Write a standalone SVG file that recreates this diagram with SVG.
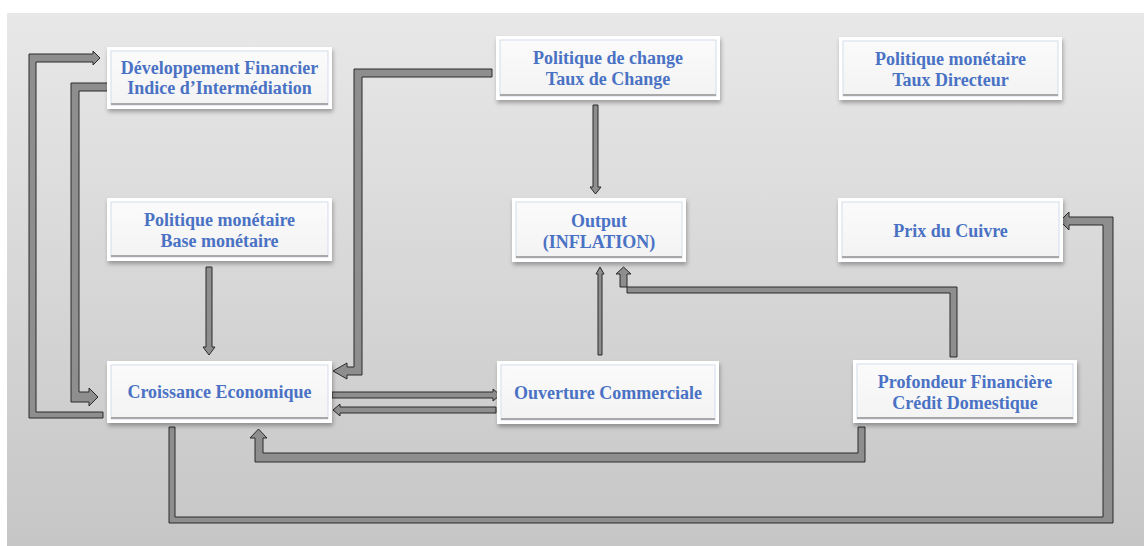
<svg xmlns="http://www.w3.org/2000/svg" width="1144" height="546" viewBox="0 0 1144 546">
<defs>
<linearGradient id="bg" x1="0" y1="0" x2="0" y2="1">
<stop offset="0" stop-color="#e8e8e8"/>
<stop offset="1" stop-color="#c6c6c6"/>
</linearGradient>
<linearGradient id="boxfill" x1="0" y1="0" x2="0" y2="1">
<stop offset="0" stop-color="#fbfbfb"/>
<stop offset="1" stop-color="#f3f3f3"/>
</linearGradient>
<filter id="shadow" x="-10%" y="-20%" width="120%" height="150%">
<feDropShadow dx="1" dy="3" stdDeviation="2" flood-color="#000" flood-opacity="0.3"/>
</filter>
</defs>
<style>
.outer{fill:#ffffff;filter:url(#shadow);}
.inner{fill:url(#boxfill);stroke:#d4dbea;stroke-width:1;}
.bevel{fill:none;stroke:#a8a8a8;stroke-width:2;}
.lbl{font-family:"Liberation Serif","Times New Roman",serif;font-weight:bold;font-size:18px;fill:#4a72c4;text-anchor:middle;}
.arr{fill:#8e8e8e;stroke:#2a2a2a;stroke-width:1;stroke-linejoin:miter;}
</style>
<rect x="0" y="0" width="1144" height="546" fill="#ffffff"/>
<rect x="7" y="13" width="1137" height="533" fill="url(#bg)"/>

<g id="connectors">
<polygon class="arr" points="103,412 103,418 29,418 29,54 93,54 93,51 100,58 93,65 93,62 36,62 36,412"/>
<polygon class="arr" points="109,83 71,83 71,402 89,402 89,406 98,397 89,388 89,392 79,392 79,91 109,91"/>
<polygon class="arr" points="492,69 354,69 354,367 347,367 347,363 333,371 347,379 347,375 362,375 362,77 492,77"/>
<polygon class="arr" points="593,105 598,105 598,187 601,187 595.5,194 590,187 593,187"/>
<polygon class="arr" points="206,267 212,267 212,347 215,347 209,355 203,347 206,347"/>
<polygon class="arr" points="332,392 493,392 493,389 500,395 493,401 493,398 332,398"/>
<polygon class="arr" points="496,407 340,407 340,404 333,410 340,416 340,413 496,413"/>
<polygon class="arr" points="598,355 598,274 596,274 600,267 604,274 602,274 602,355"/>
<polygon class="arr" points="950,357 950,293 627,293 627,274 631,274 623.5,267 616,274 620,274 620,287 957,287 957,357"/>
<polygon class="arr" points="858,427 865,427 865,462 255,462 255,438 250,438 258.5,429 267,438 263,438 263,453 858,453"/>
<polygon class="arr" points="169,427 175,427 175,517 1103,517 1103,225 1069,225 1069,230 1060,221 1069,212 1069,217 1113,217 1113,523 169,523"/>
</g>

<g id="dev-financier">
<rect class="outer" x="107" y="47" width="225" height="62"/>
<rect class="inner" x="111" y="51" width="217" height="54"/>
<line class="bevel" x1="111" y1="104" x2="328" y2="104"/>
<text class="lbl" x="219.5" y="74">Développement Financier</text>
<text class="lbl" x="219.5" y="94">Indice d’Intermédiation</text>
</g>

<g id="politique-change">
<rect class="outer" x="496" y="36" width="224" height="64"/>
<rect class="inner" x="500" y="40" width="216" height="56"/>
<line class="bevel" x1="500" y1="95" x2="716" y2="95"/>
<text class="lbl" x="608" y="64">Politique de change</text>
<text class="lbl" x="608" y="85">Taux de Change</text>
</g>

<g id="politique-monetaire-taux">
<rect class="outer" x="839" y="37" width="223" height="63"/>
<rect class="inner" x="843" y="41" width="215" height="55"/>
<line class="bevel" x1="843" y1="95" x2="1058" y2="95"/>
<text class="lbl" x="950.5" y="65">Politique monétaire</text>
<text class="lbl" x="950.5" y="86">Taux Directeur</text>
</g>

<g id="politique-monetaire-base">
<rect class="outer" x="107" y="198" width="225" height="63"/>
<rect class="inner" x="111" y="202" width="217" height="55"/>
<line class="bevel" x1="111" y1="256" x2="328" y2="256"/>
<text class="lbl" x="219.5" y="226">Politique monétaire</text>
<text class="lbl" x="219.5" y="247">Base monétaire</text>
</g>

<g id="output">
<rect class="outer" x="512" y="198" width="174" height="64"/>
<rect class="inner" x="516" y="202" width="166" height="56"/>
<line class="bevel" x1="516" y1="257" x2="682" y2="257"/>
<text class="lbl" x="599" y="227">Output</text>
<text class="lbl" x="599" y="248">(INFLATION)</text>
</g>

<g id="prix-cuivre">
<rect class="outer" x="838" y="198" width="225" height="64"/>
<rect class="inner" x="842" y="202" width="217" height="56"/>
<line class="bevel" x1="842" y1="257" x2="1059" y2="257"/>
<text class="lbl" x="950.5" y="237">Prix du Cuivre</text>
</g>

<g id="croissance">
<rect class="outer" x="107" y="361" width="225" height="62"/>
<rect class="inner" x="111" y="365" width="217" height="54"/>
<line class="bevel" x1="111" y1="418" x2="328" y2="418"/>
<text class="lbl" x="219.5" y="398">Croissance Economique</text>
</g>

<g id="ouverture">
<rect class="outer" x="497" y="361" width="222" height="63"/>
<rect class="inner" x="501" y="365" width="214" height="55"/>
<line class="bevel" x1="501" y1="419" x2="715" y2="419"/>
<text class="lbl" x="608" y="399">Ouverture Commerciale</text>
</g>

<g id="profondeur">
<rect class="outer" x="853" y="360" width="224" height="63"/>
<rect class="inner" x="857" y="364" width="216" height="55"/>
<line class="bevel" x1="857" y1="418" x2="1073" y2="418"/>
<text class="lbl" x="965" y="388">Profondeur Financière</text>
<text class="lbl" x="965" y="409">Crédit Domestique</text>
</g>
</svg>
